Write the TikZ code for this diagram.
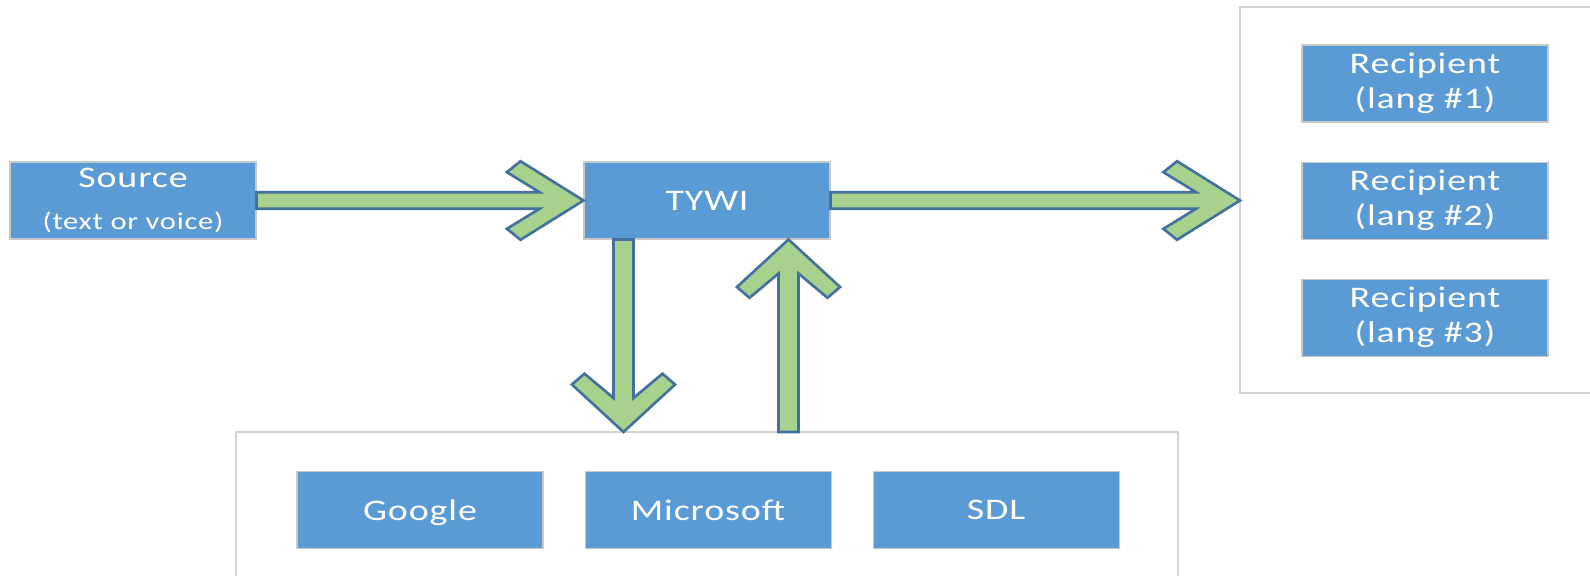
\documentclass[tikz,border=0pt]{standalone}
\usepackage{fontspec}
\setmainfont{Carlito}[FakeStretch=1.27, LetterSpace=3]
\usetikzlibrary{calc}
\usetikzlibrary{positioning}

\definecolor{caixaAzul}{HTML}{5B9BD5}
\definecolor{bordaCaixa}{HTML}{C8C8C8}
\definecolor{setaVerde}{HTML}{A9D18E}
\definecolor{bordaSeta}{HTML}{41719C}
\definecolor{bordaGrupo}{HTML}{D3D3D3}

\tikzset{
	caixa/.style={rectangle, fill=caixaAzul, draw=bordaCaixa, line width=0.6pt, text=white, minimum width=4.92cm, minimum height=1.54cm, inner sep=0cm, align=center, font=\fontsize{17}{20}\selectfont},
	caixa1/.style={caixa, text depth=0pt},
	grupo/.style={draw=bordaGrupo, line width=1.1pt},
	seta/.style={fill=setaVerde, draw=bordaSeta, line width=1.5pt, line join=miter}
}

\begin{document}
\begin{tikzpicture}

		\def \xmax{31.8};
		\def \ymax{11.52};

		\useasboundingbox (0,0) rectangle (\xmax, \ymax);

		% grupos abertos na borda da figura
		\coordinate (grupoDest) at (24.8, 11.38);
		\coordinate (grupoMotor) at (4.72, 2.88);
		\draw[grupo] (\xmax, 11.38) -- (grupoDest) -- (24.8, 3.66) -- (\xmax, 3.66);
		\draw[grupo] (4.72, 0) -- (grupoMotor) -- (23.56, 2.88) -- (23.56, 0);

		% caixas
		\node[caixa] (fonte) at (2.66, 7.51) {Source\\[3.7pt]{\fontsize{13.7}{16}\selectfont (text or voice)}};
		\node[caixa1] (tywi) at (14.14, 7.51) {TYWI};

		\node[caixa] (dest1) at (28.5, 9.85) {Recipient\\(lang \#1)};
		\node[caixa, below=0.78cm of dest1] (dest2) {Recipient\\(lang \#2)};
		\node[caixa, below=0.78cm of dest2] (dest3) {Recipient\\(lang \#3)};

		\node[caixa1] (google) at (8.4, 1.32) {Google};
		\node[caixa1, right=0.82cm of google] (microsoft) {Microsoft};
		\node[caixa1, right=0.82cm of microsoft] (sdl) {SDL};

		% setas
		\def \hasteH{0.166};
		\def \entalheH{0.88};
		\def \pontaHx{1.26};
		\def \pontaHy{0.786};
		\def \costaHx{1.532};
		\def \costaHy{0.566};

		\def \hasteV{0.2};
		\def \entalheV{0.68};
		\def \pontaVx{1.032};
		\def \pontaVy{0.95};
		\def \costaVx{0.78};
		\def \costaVy{1.166};

		\coordinate (destW) at (grupoDest |- tywi.east);
		\coordinate (desce) at ($(tywi.south west)+(0.8,0)$);
		\coordinate (desceFim) at (desce |- grupoMotor);
		\coordinate (sobe) at ($(tywi.south)+(1.63,0)$);
		\coordinate (sobeIni) at (sobe |- grupoMotor);

		\draw[seta] (tywi.west) -- ($(tywi.west)+(-\pontaHx,\pontaHy)$) -- ($(tywi.west)+(-\costaHx,\costaHy)$) -- ($(tywi.west)+(-\entalheH,\hasteH)$) -- ($(fonte.east)+(0,\hasteH)$) -- ($(fonte.east)+(0,-\hasteH)$) -- ($(tywi.west)+(-\entalheH,-\hasteH)$) -- ($(tywi.west)+(-\costaHx,-\costaHy)$) -- ($(tywi.west)+(-\pontaHx,-\pontaHy)$) -- cycle;

		\draw[seta] (destW) -- ($(destW)+(-\pontaHx,\pontaHy)$) -- ($(destW)+(-\costaHx,\costaHy)$) -- ($(destW)+(-\entalheH,\hasteH)$) -- ($(tywi.east)+(0,\hasteH)$) -- ($(tywi.east)+(0,-\hasteH)$) -- ($(destW)+(-\entalheH,-\hasteH)$) -- ($(destW)+(-\costaHx,-\costaHy)$) -- ($(destW)+(-\pontaHx,-\pontaHy)$) -- cycle;

		\draw[seta] (desceFim) -- ($(desceFim)+(-\pontaVx,\pontaVy)$) -- ($(desceFim)+(-\costaVx,\costaVy)$) -- ($(desceFim)+(-\hasteV,\entalheV)$) -- ($(desce)+(-\hasteV,0)$) -- ($(desce)+(\hasteV,0)$) -- ($(desceFim)+(\hasteV,\entalheV)$) -- ($(desceFim)+(\costaVx,\costaVy)$) -- ($(desceFim)+(\pontaVx,\pontaVy)$) -- cycle;

		\draw[seta] (sobe) -- ($(sobe)+(-\pontaVx,-\pontaVy)$) -- ($(sobe)+(-\costaVx,-\costaVy)$) -- ($(sobe)+(-\hasteV,-\entalheV)$) -- ($(sobeIni)+(-\hasteV,0)$) -- ($(sobeIni)+(\hasteV,0)$) -- ($(sobe)+(\hasteV,-\entalheV)$) -- ($(sobe)+(\costaVx,-\costaVy)$) -- ($(sobe)+(\pontaVx,-\pontaVy)$) -- cycle;

\end{tikzpicture}
\end{document}
